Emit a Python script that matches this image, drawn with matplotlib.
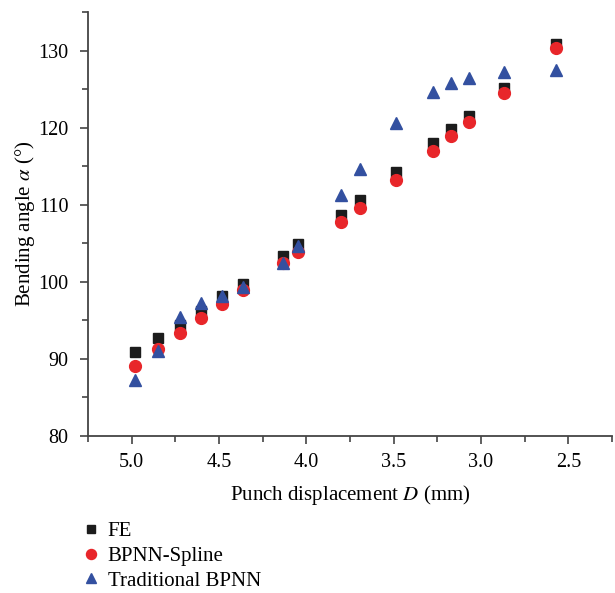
import matplotlib
matplotlib.use("Agg")
import matplotlib.pyplot as plt
from matplotlib.ticker import MultipleLocator

D = [4.98, 4.85, 4.725, 4.605, 4.485, 4.365, 4.135, 4.045, 3.80, 3.695, 3.485, 3.275, 3.17, 3.07, 2.87, 2.57]
fe = [90.9, 92.7, 94.4, 96.2, 98.1, 99.7, 103.4, 104.9, 108.7, 110.6, 114.2, 118.0, 119.8, 121.5, 125.2, 130.8]
spline = [89.1, 91.25, 93.3, 95.25, 97.1, 98.9, 102.5, 103.8, 107.7, 109.6, 113.2, 117.0, 118.9, 120.75, 124.5, 130.35]
trad = [87.3, 91.0, 95.45, 97.3, 98.2, 99.3, 102.5, 104.6, 111.2, 114.6, 120.6, 124.6, 125.8, 126.5, 127.2, 127.5]

plt.rcParams['font.family'] = ['Liberation Serif', 'DejaVu Serif']
plt.rcParams['mathtext.fontset'] = 'stix'

fig = plt.figure(figsize=(6.15, 5.93), dpi=100)
ax = fig.add_axes([0.143, 0.2648, 0.852, 0.715])

h1, = ax.plot(D, fe, 's', color='#1c1c1c', markersize=7.5, linestyle='none', label='FE')
h2, = ax.plot(D, spline, 'o', color='#e8262a', markersize=8.5, linestyle='none', label='BPNN-Spline')
h3, = ax.plot(D, trad, '^', color='#3350a0', markersize=9, linestyle='none', label='Traditional BPNN')

ax.set_xlim(5.25, 2.25)
ax.set_ylim(80, 135)
ax.xaxis.set_major_locator(MultipleLocator(0.5))
ax.xaxis.set_minor_locator(MultipleLocator(0.25))
ax.yaxis.set_major_locator(MultipleLocator(10))
ax.yaxis.set_minor_locator(MultipleLocator(5))
ax.xaxis.set_major_formatter(matplotlib.ticker.FormatStrFormatter('%.1f'))

for s in ['top', 'right']:
    ax.spines[s].set_visible(False)
for s in ['left', 'bottom']:
    ax.spines[s].set_color('#444444')
    ax.spines[s].set_linewidth(1.3)
ax.tick_params(which='both', direction='out', color='#444444', width=1.2, labelsize=14.5)
ax.tick_params(which='major', length=6, pad=6)
ax.tick_params(which='minor', length=4)
ax.tick_params(axis='y', which='major', pad=8)

ax.set_xlabel('Punch displacement $\\mathit{D}$ (mm)', fontsize=15, labelpad=8)
ax.set_ylabel('Bending angle $\\mathit{\\alpha}$ (°)', fontsize=15, labelpad=1)

fig.legend(handles=[h1, h2, h3], loc='upper left', bbox_to_anchor=(0.121, 0.134),
           frameon=False, fontsize=15, handlelength=0.8, handletextpad=0.4,
           labelspacing=0.24, borderaxespad=0, markerscale=0.85)

fig.savefig('out.png', dpi=100)
